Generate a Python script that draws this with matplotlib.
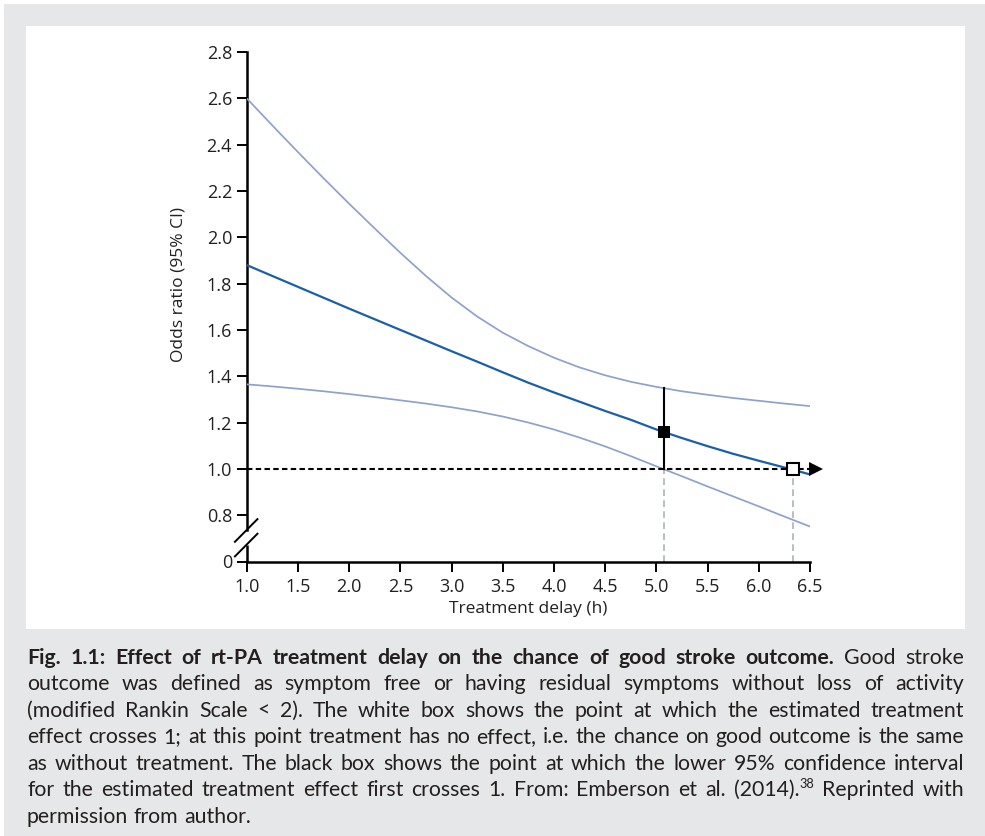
import matplotlib
matplotlib.use("Agg")
import matplotlib.pyplot as plt
from matplotlib import font_manager
from matplotlib.patches import Rectangle

# ---------------- data ----------------
delay_h = [1.0, 1.25, 1.5, 1.75, 2.0, 2.25, 2.5, 2.75, 3.0, 3.25, 3.5, 3.75,
           4.0, 4.25, 4.5, 4.75, 5.0, 5.25, 5.5, 5.75, 6.0, 6.25, 6.5]
or_estimate = [1.880, 1.833, 1.786, 1.739, 1.692, 1.646, 1.600, 1.554, 1.508,
               1.463, 1.417, 1.372, 1.330, 1.290, 1.250, 1.212, 1.170, 1.133,
               1.098, 1.065, 1.035, 1.006, 0.976]
ci_upper = [2.600, 2.483, 2.368, 2.255, 2.145, 2.038, 1.933, 1.833, 1.740,
            1.658, 1.588, 1.530, 1.480, 1.438, 1.404, 1.376, 1.354, 1.335,
            1.320, 1.306, 1.294, 1.282, 1.271]
ci_lower = [1.365, 1.356, 1.346, 1.335, 1.323, 1.310, 1.296, 1.282, 1.266,
            1.248, 1.226, 1.200, 1.170, 1.135, 1.097, 1.055, 1.011, 0.968,
            0.924, 0.881, 0.838, 0.794, 0.751]

x_ticks = [1.0, 1.5, 2.0, 2.5, 3.0, 3.5, 4.0, 4.5, 5.0, 5.5, 6.0, 6.5]
x_tick_labels = ["1.0", "1.5", "2.0", "2.5", "3.0", "3.5", "4.0", "4.5",
                 "5.0", "5.5", "6.0", "6.5"]
y_ticks = [0.6, 0.8, 1.0, 1.2, 1.4, 1.6, 1.8, 2.0, 2.2, 2.4, 2.6, 2.8]
y_tick_labels = ["0", "0.8", "1.0", "1.2", "1.4", "1.6", "1.8", "2.0",
                 "2.2", "2.4", "2.6", "2.8"]

no_effect_or = 1.0
lower_cross_x = 5.07        # black box: lower CI first crosses 1
lower_cross_or = 1.16       # estimate at that delay
lower_cross_upper = 1.35    # upper CI at that delay
estimate_cross_x = 6.33     # white box: estimate crosses 1

x_label = "Treatment delay (h)"
y_label = "Odds ratio (95% CI)"

caption_lines = [
    [("Fig. 1.1: Effect of rt-PA treatment delay on the chance of good stroke outcome.", "bold"),
     ("Good stroke", "normal")],
    [("outcome was defined as symptom free or having residual symptoms without loss of activity", "normal")],
    [("(modified Rankin Scale < 2). The white box shows the point at which the estimated treatment", "normal")],
    [("effect crosses 1; at this point treatment has no effect, i.e. the chance on good outcome is the same", "normal")],
    [("as without treatment. The black box shows the point at which the lower 95% confidence interval", "normal")],
    [("for the estimated treatment effect first crosses 1. From: Emberson et al. (2014).", "normal"),
     ("38", "sup"), ("Reprinted with", "normal")],
    [("permission from author.", "normal")],
]

# ---------------- style ----------------
W, H = 985, 836
GREY_BG = "#e6e7e8"
TEXT = "#231f20"
DARK_BLUE = "#1b5fa8"
LIGHT_BLUE = "#8ea2cb"
GUIDE_GREY = "#a3adb3"

names = {f.name for f in font_manager.fontManager.ttflist}
tick_family = ["Open Sans", "DejaVu Sans"]
if "Liberation Sans Narrow" in names:
    cap_family = ["Liberation Sans Narrow", "DejaVu Sans"]
else:
    cap_family = ["Lato", "DejaVu Sans"]
cap_size = 14.0

plt.rcParams["font.family"] = tick_family

fig = plt.figure(figsize=(W / 100, H / 100), dpi=100, facecolor="white")
fig.add_artist(Rectangle((4 / W, 0), (W - 4) / W, (H - 4) / H,
                         transform=fig.transFigure, facecolor=GREY_BG,
                         edgecolor="none", zorder=-10))
fig.add_artist(Rectangle((26 / W, 1 - 629 / H), (965 - 26) / W, (629 - 26) / H,
                         transform=fig.transFigure, facecolor="white",
                         edgecolor="none", zorder=-9))

ax_left, ax_right, ax_top, ax_bottom = 246.7, 810.0, 52.0, 561.5
ax = fig.add_axes([ax_left / W, 1 - ax_bottom / H, (ax_right - ax_left) / W,
                   (ax_bottom - ax_top) / H])
ax.set_facecolor("none")
ax.set_xlim(1.0, 6.5)
ax.set_ylim(0.6, 2.8)

# curves
ax.plot(delay_h, ci_upper, color=LIGHT_BLUE, lw=1.25, zorder=3,
        solid_capstyle="butt", solid_joinstyle="round")
ax.plot(delay_h, ci_lower, color=LIGHT_BLUE, lw=1.25, zorder=3,
        solid_capstyle="butt", solid_joinstyle="round")
ax.plot(delay_h, or_estimate, color=DARK_BLUE, lw=1.6, zorder=4,
        solid_capstyle="butt", solid_joinstyle="round", clip_on=False)

# reference line at OR = 1 with arrow
ax.plot([1.0, 6.49], [no_effect_or, no_effect_or], color="black", lw=1.5,
        dashes=(2.6, 1.6), zorder=5, clip_on=False)
ax.plot([6.56], [no_effect_or], marker=">", markersize=10, color="black",
        markeredgewidth=0, zorder=6, clip_on=False)

# guide lines down to the axis
for gx in (lower_cross_x, estimate_cross_x):
    ax.plot([gx, gx], [0.6, no_effect_or], color=GUIDE_GREY, lw=1.1,
            dashes=(4.4, 2.8), zorder=2, clip_on=False)

# black CI bar and boxes
ax.plot([lower_cross_x, lower_cross_x], [no_effect_or, lower_cross_upper],
        color="black", lw=1.5, zorder=6)
ax.plot([lower_cross_x], [lower_cross_or], marker="s", markersize=8.5,
        color="black", markeredgewidth=0, zorder=7)
ax.plot([estimate_cross_x], [no_effect_or], marker="s", markersize=9,
        markerfacecolor="white", markeredgecolor="black",
        markeredgewidth=1.5, zorder=7, clip_on=False)

# axes styling
for s in ("top", "right"):
    ax.spines[s].set_visible(False)
break_lo, break_hi = 0.671, 0.736
ax.spines["left"].set_bounds(break_hi, 2.8)
ax.spines["left"].set_linewidth(1.8)
ax.spines["bottom"].set_linewidth(1.8)
ax.spines["left"].set_capstyle("projecting")
ax.plot([1.0, 1.0], [0.6, break_lo], color="black", lw=1.8, clip_on=False,
        zorder=8, solid_capstyle="butt")
# axis break slashes
for yc in (0.672, 0.735):
    ax.plot([0.885, 1.105], [yc - 0.05, yc + 0.048], color="black", lw=1.4,
            clip_on=False, zorder=8)

ax.set_xticks(x_ticks)
ax.set_xticklabels(x_tick_labels)
ax.set_yticks(y_ticks)
ax.set_yticklabels(y_tick_labels)
ax.tick_params(axis="both", direction="out", length=7.5, width=1.4,
               color="black", labelsize=13, labelcolor=TEXT)
ax.tick_params(axis="y", pad=3)
ax.tick_params(axis="x", pad=4.5)

fig.text(528 / W, 1 - 609 / H, x_label, ha="center", va="center",
         fontsize=12.5, color=TEXT)
fig.text(178.5 / W, 1 - 285 / H, y_label, ha="center", va="center",
         rotation=90, fontsize=12.5, color=TEXT)

# ---------------- justified caption ----------------
renderer = fig.canvas.get_renderer()


def piece_width(text, style, size_base):
    size = size_base * (0.6 if style == "sup" else 1.0)
    weight = "bold" if style == "bold" else "normal"
    t = fig.text(0, 0, text, fontsize=size, fontweight=weight,
                 family=cap_family)
    w = t.get_window_extent(renderer).width
    t.remove()
    return w


def split_words(segs):
    words = []
    for text, style in segs:
        if style == "sup":
            words[-1].append((text, style))
        else:
            for wtxt in text.split(" "):
                if wtxt:
                    words.append([(wtxt, style)])
    return words


cap_left, cap_right = 27.0, 964.0
avail = cap_right - cap_left


def natural_width(words, size):
    sp = piece_width("a a", "normal", size) - piece_width("aa", "normal", size)
    ws = [sum(piece_width(t, s, size) for t, s in w) for w in words]
    return sum(ws) + sp * (len(words) - 1)


all_words = [split_words(segs) for segs in caption_lines]
widest = max(natural_width(w, cap_size) for w in all_words[:-1])
cap_size = cap_size * avail / widest * 0.985

space_w = piece_width("a a", "normal", cap_size) - piece_width("aa", "normal", cap_size)
baseline0, line_step = 664.0, 26.45

for li, words in enumerate(all_words):
    widths = [sum(piece_width(t, s, cap_size) for t, s in w) for w in words]
    last = li == len(all_words) - 1
    if last or len(words) < 2:
        gap = space_w
    else:
        gap = (avail - sum(widths)) / (len(words) - 1)
    x = cap_left
    base = baseline0 + li * line_step
    for w, ww in zip(words, widths):
        px = x
        for t, s in w:
            size = cap_size * (0.6 if s == "sup" else 1.0)
            weight = "bold" if s == "bold" else "normal"
            yy = base - (0.55 * cap_size if s == "sup" else 0.0)
            fig.text(px / W, 1 - yy / H, t, fontsize=size, fontweight=weight,
                     family=cap_family, color=TEXT, ha="left", va="baseline")
            px += piece_width(t, s, cap_size)
        x += ww + gap

fig.savefig("out.png", dpi=100, facecolor=fig.get_facecolor())
